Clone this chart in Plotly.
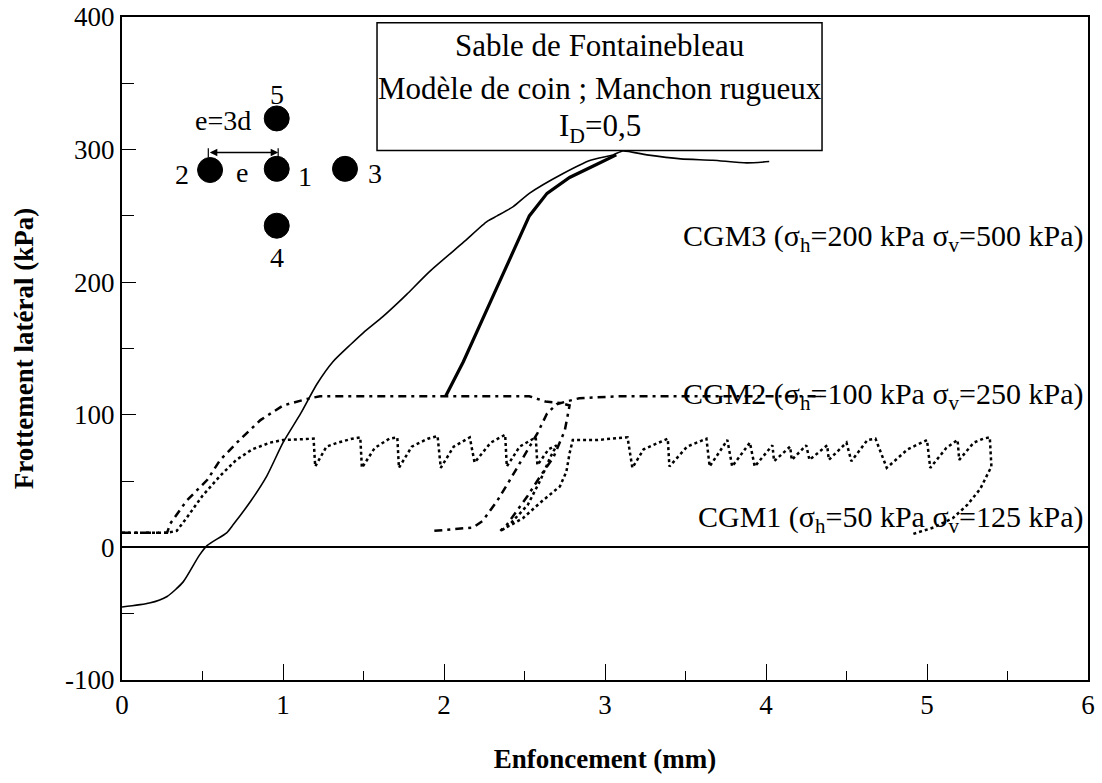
import plotly.graph_objects as go

# ---- data (displacement in mm, friction in kPa) ----
# CGM3 : sigma_h=200 kPa, sigma_v=500 kPa (solid)
cgm3_x = [0.00, 0.17, 0.28, 0.38, 0.48, 0.53, 0.65, 0.69, 0.80, 0.90, 1.00, 1.11, 1.21, 1.31,
          1.42, 1.50, 1.62, 1.71, 1.77, 1.91, 2.12, 2.27, 2.33, 2.43, 2.53, 2.74, 2.91, 3.05,
          3.11, 3.26, 3.47, 3.67, 3.88, 4.02]
cgm3_y = [-45, -42, -37, -26, -6, 1.5, 11, 17, 35, 54, 79, 101, 123, 140,
          153, 162, 174, 184, 191, 208, 230, 246, 250, 257, 267, 282, 292, 296,
          299, 296, 293, 292, 290, 291]
# CGM3 reloading branch (thick solid)
cgm3r_x = [2.01, 2.12, 2.31, 2.53, 2.64, 2.78, 2.95, 3.07]
cgm3r_y = [114, 140, 191, 250, 267, 279, 289, 296]

# CGM2 : sigma_h=100 kPa, sigma_v=250 kPa (dash-dot)
cgm2_x = [0.00, 0.28, 0.30, 0.40, 0.53, 0.61, 0.73, 0.86, 1.00, 1.15, 1.23, 1.73, 2.22, 2.53,
          2.63, 2.72, 2.78, 2.75, 2.68, 2.60, 2.52, 2.45, 2.39, 2.35, None,
          1.94, 2.18, 2.24, 2.33, 2.41, 2.49, 2.58, 2.64, 2.70, 2.76, 2.84, 3.09, 3.59, 4.09, 4.34]
cgm2_y = [11, 11, 18, 35, 51, 66, 81, 96, 107, 112, 114, 114, 114, 114,
          110, 109, 107, 88, 68, 54, 39, 27, 17, 12.5, None,
          12.5, 15, 20, 35, 51, 68, 86, 101, 108, 110, 112.5, 114, 114, 114, 114]

# CGM1 : sigma_h=50 kPa, sigma_v=125 kPa (dotted, stick-slip)
cgm1_x = [0.00, 0.28, 0.34, 0.40, 0.50, 0.61, 0.71, 0.81, 0.92, 1.00, 1.19,
          1.20, 1.27, 1.34, 1.43, 1.48, 1.49, 1.57, 1.66, 1.71, 1.72, 1.80, 1.90, 1.96,
          1.98, 2.06, 2.16, 2.19, 2.29, 2.38, 2.39, 2.47, 2.57, 2.58, 2.65, 2.70,
          2.66, 2.60, 2.52, 2.39, 2.35, 2.49, 2.61, 2.72, 2.76, 2.78, 2.80, 2.95, 3.14,
          3.17, 3.24, 3.39, 3.40, 3.51, 3.63, 3.65, 3.76, 3.79, 3.90, 3.93, 4.04, 4.05,
          4.15, 4.16, 4.25, 4.27, 4.38, 4.39, 4.50, 4.53, 4.63, 4.68, 4.75, 4.88, 5.00,
          5.02, 5.12, 5.19, 5.20, 5.29, 5.35, 5.39, 5.40, 5.33, 5.25, 5.16, 5.04, 4.91]
cgm1_y = [11, 11, 12.5, 22, 39, 54, 66, 74, 79, 81, 82,
          61, 76, 79, 82, 83, 60, 75, 82, 83, 60, 76, 82, 84,
          60, 76, 83, 64, 79, 85, 61, 76, 83, 62, 74, 77,
          68, 51, 32, 15, 12.5, 22, 35, 46, 57, 71, 81, 81, 83,
          60, 74, 82, 61, 76, 82, 61, 81, 61, 79, 61, 77, 65,
          76, 66, 77, 66, 77, 66, 79, 65, 81, 82, 60, 74, 81,
          60, 75, 81, 66, 79, 82, 83, 61, 44, 32, 22, 15, 10]

x_ticks = [0, 1, 2, 3, 4, 5, 6]
y_ticks = [-100, 0, 100, 200, 300, 400]
y_tick_text = ["-100", "0", "100", "200", "300", "400"]

SERIF = "Liberation Serif"

fig = go.Figure()

fig.add_trace(go.Scatter(x=cgm3_x, y=cgm3_y, mode="lines", line_shape="spline",
                         line=dict(color="black", width=1.6, smoothing=0.6), showlegend=False))
fig.add_trace(go.Scatter(x=cgm3r_x, y=cgm3r_y, mode="lines",
                         line=dict(color="black", width=3.2), showlegend=False))
fig.add_trace(go.Scatter(x=cgm2_x, y=cgm2_y, mode="lines", connectgaps=False,
                         line=dict(color="black", width=2.5, dash="8px,5px,3px,5px"),
                         showlegend=False))
fig.add_trace(go.Scatter(x=cgm1_x, y=cgm1_y, mode="lines",
                         line=dict(color="black", width=2.5, dash="3px,3px"),
                         showlegend=False))

# info box
fig.add_shape(type="rect", x0=1.584, x1=4.348, y0=299.3, y1=395.6,
              line=dict(color="black", width=1.5), fillcolor="rgba(0,0,0,0)")
box_lines = [("Sable de Fontainebleau", 378.7),
             ("Modèle de coin ; Manchon rugueux", 346.3),
             ("I<sub>D</sub>=0,5", 316.2)]
for txt, yy in box_lines:
    fig.add_annotation(x=2.966, y=yy, text=txt, showarrow=False,
                       font=dict(family=SERIF, size=31, color="black"))

# pile arrangement sketch
piles = [(0.961, 323.5), (0.547, 284.6), (0.961, 285.5), (1.385, 285.5), (0.961, 242.6)]
for px, py in piles:
    fig.add_shape(type="circle", xref="x", yref="y", xsizemode="pixel", ysizemode="pixel",
                  xanchor=px, yanchor=py, x0=-12.5, x1=12.5, y0=-12.5, y1=12.5,
                  fillcolor="black", line=dict(color="black", width=1))
sketch_labels = [("5", 0.961, 341.9), ("e=3d", 0.627, 322.3), ("2", 0.37, 280.9),
                 ("e", 0.743, 283.1), ("1", 1.137, 279.4), ("3", 1.571, 281.8),
                 ("4", 0.961, 218.4)]
for txt, lx, ly in sketch_labels:
    fig.add_annotation(x=lx, y=ly, text=txt, showarrow=False,
                       font=dict(family=SERIF, size=28, color="black"))
fig.add_annotation(x=0.97, y=297.8, ax=0.536, ay=297.8, axref="x", ayref="y",
                   text="", showarrow=True, arrowhead=2, arrowside="end+start",
                   arrowwidth=1.5, arrowsize=1, arrowcolor="black")
for bx in (0.536, 0.97):
    fig.add_shape(type="line", x0=bx, x1=bx, y0=294, y1=301,
                  line=dict(color="black", width=1.2))

# curve labels
curve_labels = [("CGM3 (σ<sub>h</sub>=200 kPa σ<sub>v</sub>=500 kPa)", 233.1),
                ("CGM2 (σ<sub>h</sub>=100 kPa σ<sub>v</sub>=250 kPa)", 114),
                ("CGM1 (σ<sub>h</sub>=50 kPa σ<sub>v</sub>=125 kPa)", 21.3)]
for txt, yy in curve_labels:
    fig.add_annotation(x=5.985, y=yy, text=txt, showarrow=False, xanchor="right",
                       font=dict(family=SERIF, size=30, color="black"))

fig.update_xaxes(range=[0, 6], tickvals=x_ticks, ticks="inside", ticklen=16,
                 tickwidth=1.2, tickcolor="black",
                 minor=dict(dtick=0.5, ticks="inside", ticklen=9, tickcolor="black"),
                 showline=True, linecolor="black", linewidth=2, mirror=True,
                 showgrid=False, zeroline=False,
                 tickfont=dict(family=SERIF, size=27, color="black"),
                 title=dict(text="<b>Enfoncement (mm)</b>", standoff=30,
                            font=dict(family=SERIF, size=27, color="black")))
fig.update_yaxes(range=[-100, 400], tickvals=y_ticks, ticktext=y_tick_text,
                 ticks="inside", ticklen=14, tickwidth=1.2, tickcolor="black",
                 minor=dict(dtick=50, ticks="inside", ticklen=12, tickcolor="black"),
                 showline=True, linecolor="black", linewidth=2, mirror=True,
                 showgrid=False, zeroline=True, zerolinecolor="black", zerolinewidth=2,
                 tickfont=dict(family=SERIF, size=27, color="black"),
                 title=dict(text="<b>Frottement latéral (kPa)</b>", standoff=24,
                            font=dict(family=SERIF, size=27, color="black")))

fig.update_layout(width=1102, height=783, plot_bgcolor="white", paper_bgcolor="white",
                  margin=dict(l=122, r=14, t=17, b=103, autoexpand=False),
                  font=dict(family=SERIF, color="black"))

fig.write_html("out.html", config={"displayModeBar": False},
               post_script="document.body.style.margin='0';")
